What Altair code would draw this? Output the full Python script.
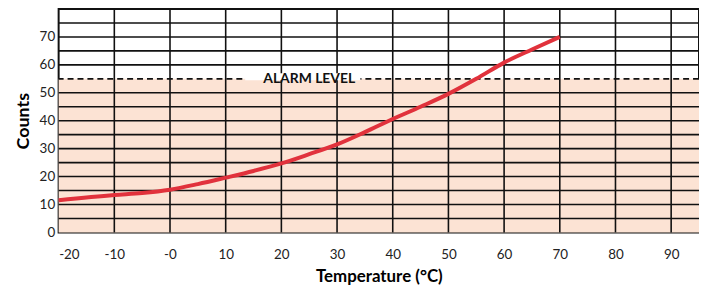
import altair as alt
import pandas as pd

# Data
temps = [-20, -10, -5, 0, 5, 10, 15, 20, 25, 30, 35, 40, 45, 50, 55, 60, 65, 70]
counts = [11.5, 13.4, 14.1, 15.3, 17.3, 19.6, 22.0, 24.7, 28.0, 31.5, 35.9, 40.6, 45.0, 49.6, 55.0, 60.8, 65.5, 70.0]

x_ticks = [-20, -10, 0, 10, 20, 30, 40, 50, 60, 70, 80, 90]
y_labels = [0, 10, 20, 30, 40, 50, 60, 70]
y_grid = [5, 10, 15, 20, 25, 30, 35, 40, 45, 50, 60, 65, 70, 75]
alarm_level = 55
alarm_text = "ALARM LEVEL"
alarm_text_x = 25
alarm_box = (13.5, 34.2)
x_domain = [-20, 95]
y_domain = [0, 80]

FONT = "Lato"

line_df = pd.DataFrame({"t": temps, "c": counts})
xgrid_df = pd.DataFrame({"t": x_ticks[1:]})
ygrid_df = pd.DataFrame({"c": y_grid})
zone_df = pd.DataFrame({"t": [x_domain[0]], "t2": [x_domain[1]], "c": [0], "c2": [alarm_level]})
alarm_df = pd.DataFrame({"c": [alarm_level]})
box_df = pd.DataFrame({"t": [alarm_box[0]], "t2": [alarm_box[1]], "c": [alarm_level - 0.5], "c2": [alarm_level + 2]})
text_df = pd.DataFrame({"t": [alarm_text_x], "c": [alarm_level], "label": [alarm_text]})

xs = alt.Scale(domain=x_domain, nice=False, zero=False)
ys = alt.Scale(domain=y_domain, nice=False, zero=False)

x_axis = alt.Axis(
    values=x_ticks, grid=False, domain=False, ticks=False, labelOverlap=False,
    labelExpr="datum.value == 0 ? '-0' : (datum.value < 0 ? '-' + abs(datum.value) : '' + datum.value)",
    labelFont=FONT, labelFontSize=13.5, labelColor="#222", labelPadding=15,
    titleFont=FONT, titleFontSize=17, titleFontWeight="bold",
    titleColor="#000", titlePadding=8,
)
y_axis = alt.Axis(
    values=y_labels, grid=False, domain=False, ticks=False, labelOverlap=False,
    labelFont=FONT, labelFontSize=13.5, labelColor="#222", labelPadding=4,
    titleFont=FONT, titleFontSize=18, titleFontWeight="bold",
    titleColor="#000", titlePadding=7,
)


def X(field):
    return alt.X(field, scale=xs, axis=x_axis, title="Temperature (°C)")


def Y(field):
    return alt.Y(field, scale=ys, axis=y_axis, title="Counts")


zone = alt.Chart(zone_df).mark_rect(color="#fce3d4").encode(
    x=X("t:Q"), x2="t2:Q", y=Y("c:Q"), y2="c2:Q",
)
vgrid = alt.Chart(xgrid_df).mark_rule(color="#111", strokeWidth=1.6).encode(x=X("t:Q"))
hgrid = alt.Chart(ygrid_df).mark_rule(color="#111", strokeWidth=1.6).encode(y=Y("c:Q"))
alarm = alt.Chart(alarm_df).mark_rule(color="#111", strokeWidth=1.8, strokeDash=[6, 4]).encode(y=Y("c:Q"))
box = alt.Chart(box_df).mark_rect(color="white").encode(
    x=X("t:Q"), x2="t2:Q", y=Y("c:Q"), y2="c2:Q",
)
label = alt.Chart(text_df).mark_text(
    font=FONT, fontSize=14, fontWeight="bold", color="#111", baseline="middle", align="center"
).encode(x=X("t:Q"), y=Y("c:Q"), text="label:N")
curve = alt.Chart(line_df).mark_line(color="#e1323c", strokeWidth=4, interpolate="monotone").encode(
    x=X("t:Q"), y=Y("c:Q"),
)

chart = alt.layer(zone, vgrid, hgrid, alarm, box, label, curve).properties(
    width=645, height=225,
    autosize=alt.AutoSizeParams(type="none"),
    padding={"left": 51, "top": 0, "right": 0, "bottom": 56},
    background="white",
).configure_view(stroke="#111", strokeWidth=2)

chart.save("out.html", embed_options={"renderer": "svg", "actions": False})
